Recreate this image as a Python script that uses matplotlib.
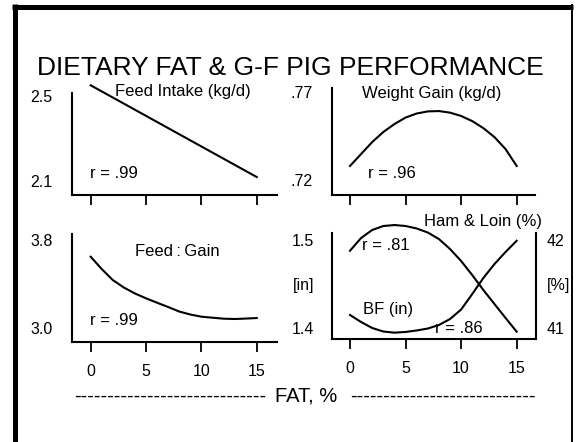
import matplotlib
matplotlib.use("Agg")
import matplotlib.pyplot as plt
from matplotlib.lines import Line2D

plt.rcParams['font.family'] = ['Liberation Sans', 'DejaVu Sans']

# ---------------- data ----------------
fat = [0, 1, 2, 3, 4, 5, 6, 7, 8, 9, 10, 11, 12, 13, 14, 15]
fat_ticks = [0, 5, 10, 15]

intake_x = [0, 15]
intake = [2.55, 2.12]                      # kg/d
intake_ticks = [2.1, 2.5]
intake_labels = ['2.1', '2.5']

gain = [0.7280, 0.7348, 0.7416, 0.7473, 0.7518, 0.7555, 0.7578, 0.7590,
        0.7592, 0.7583, 0.7564, 0.7535, 0.7495, 0.7444, 0.7376, 0.7280]  # kg/d
gain_ticks = [0.72, 0.77]
gain_labels = ['.72', '.77']

feed_gain = [3.648, 3.536, 3.436, 3.368, 3.314, 3.270, 3.230, 3.191,
             3.150, 3.123, 3.103, 3.094, 3.085, 3.082, 3.086, 3.091]
fg_ticks = [3.0, 3.8]
fg_labels = ['3.0', '3.8']

bf = [1.4148, 1.4068, 1.4000, 1.3960, 1.3947, 1.3955, 1.3972, 1.3994,
      1.4034, 1.4102, 1.4210, 1.4386, 1.4568, 1.4727, 1.4864, 1.4992]   # in
bf_ticks = [1.4, 1.45, 1.5]
bf_labels = ['1.4', '[in]', '1.5']

ham = [41.878, 42.023, 42.114, 42.159, 42.170, 42.159, 42.131, 42.085,
       42.011, 41.898, 41.761, 41.602, 41.432, 41.273, 41.114, 40.958]  # %
ham_ticks = [41, 41.5, 42]
ham_labels = ['41', '[%]', '42']

# ---------------- figure ----------------
W, H = 576, 442
fig = plt.figure(figsize=(W / 100, H / 100), dpi=100)
fig.patch.set_facecolor('white')


def fx(x):
    return x / W


def fy(y):
    return 1 - y / H


def make_ax(left, top, right, bottom):
    return fig.add_axes([fx(left), fy(bottom), (right - left) / W, (bottom - top) / H])


LW = 1.5
TICK_FS = 11.5
LBL_FS = 12


def style(ax, xlim, ylim, yt, ylab, show_xlabels):
    ax.set_xlim(*xlim)
    ax.set_ylim(*ylim)
    ax.set_facecolor('none')
    for s in ['top', 'right']:
        ax.spines[s].set_visible(False)
    for s in ['left', 'bottom']:
        ax.spines[s].set_linewidth(1.5)
    ax.set_xticks(fat_ticks)
    ax.tick_params(axis='x', direction='out', length=7, width=1.3, pad=9,
                   labelsize=TICK_FS)
    if not show_xlabels:
        ax.set_xticklabels([])
    ax.set_yticks(yt)
    ax.set_yticklabels(ylab)
    ax.tick_params(axis='y', length=0, pad=14, labelsize=TICK_FS)


# top-left: feed intake
ax1 = make_ax(72, 93, 277, 195)
style(ax1, (-1.69, 16.83), (2.0358, 2.514), intake_ticks, intake_labels, False)
ax1.plot(intake_x, intake, color='black', lw=LW, clip_on=False)

# top-right: weight gain
ax2 = make_ax(332, 88, 535, 195)
style(ax2, (-1.62, 16.65), (0.7115, 0.7723), gain_ticks, gain_labels, False)
ax2.plot(fat, gain, color='black', lw=LW, clip_on=False)

# bottom-left: feed:gain
ax3 = make_ax(72, 234, 277, 342)
style(ax3, (-1.69, 16.83), (2.873, 3.855), fg_ticks, fg_labels, True)
ax3.plot(fat, feed_gain, color='black', lw=LW, clip_on=False)

# bottom-right: backfat (left) and ham & loin (right)
ax4 = make_ax(332, 233, 536, 339)
style(ax4, (-1.62, 16.74), (1.3875, 1.508), bf_ticks, bf_labels, True)
ax4.tick_params(axis='y', pad=13)
ax4.plot(fat, bf, color='black', lw=LW, clip_on=False)
ax4r = ax4.twinx()
ax4r.set_ylim(40.875, 42.0795)
ax4r.set_xlim(-1.62, 16.74)
for s in ['top', 'left', 'bottom']:
    ax4r.spines[s].set_visible(False)
ax4r.spines['right'].set_linewidth(1.5)
ax4r.set_yticks(ham_ticks)
ax4r.set_yticklabels(ham_labels)
ax4r.tick_params(axis='y', length=0, pad=8, labelsize=TICK_FS)
ax4r.plot(fat, ham, color='black', lw=LW, clip_on=False)

# ---------------- texts ----------------
fig.text(fx(290), fy(75), 'DIETARY FAT & G-F PIG PERFORMANCE', ha='center',
         va='baseline', fontsize=19)

fig.text(fx(183), fy(96), 'Feed Intake (kg/d)', ha='center', va='baseline', fontsize=LBL_FS)
fig.text(fx(90), fy(178), 'r = .99', ha='left', va='baseline', fontsize=LBL_FS)
fig.text(fx(432), fy(98), 'Weight Gain (kg/d)', ha='center', va='baseline', fontsize=LBL_FS)
fig.text(fx(368), fy(178), 'r = .96', ha='left', va='baseline', fontsize=LBL_FS)
fig.text(fx(177.5), fy(256), 'Feed\u2009:\u2009Gain', ha='center', va='baseline', fontsize=LBL_FS)
fig.text(fx(90), fy(325), 'r = .99', ha='left', va='baseline', fontsize=LBL_FS)
fig.text(fx(482.5), fy(226), 'Ham & Loin (%)', ha='center', va='baseline', fontsize=LBL_FS)
fig.text(fx(362), fy(250), 'r = .81', ha='left', va='baseline', fontsize=LBL_FS)
fig.text(fx(363), fy(314), 'BF (in)', ha='left', va='baseline', fontsize=LBL_FS)
fig.text(fx(435), fy(333), 'r = .86', ha='left', va='baseline', fontsize=LBL_FS)

fig.text(fx(266), fy(402), '-' * 29, ha='right', va='baseline', fontsize=14.5)
fig.text(fx(306), fy(402), 'FAT, %', ha='center', va='baseline', fontsize=14.5)
fig.text(fx(350), fy(402), '-' * 28, ha='left', va='baseline', fontsize=14.5)

# ---------------- frame ----------------
fig.add_artist(Line2D([fx(12), fx(573)], [fy(6.5), fy(6.5)], color='black', lw=3.6,
                      solid_capstyle='butt'))
fig.add_artist(Line2D([fx(14.5), fx(14.5)], [fy(4), fy(442)], color='black', lw=3.6,
                      solid_capstyle='butt'))
fig.add_artist(Line2D([fx(571.5), fx(571.5)], [fy(4), fy(442)], color='black', lw=1.4,
                      solid_capstyle='butt'))

fig.savefig('out.png', dpi=100, facecolor='white')
